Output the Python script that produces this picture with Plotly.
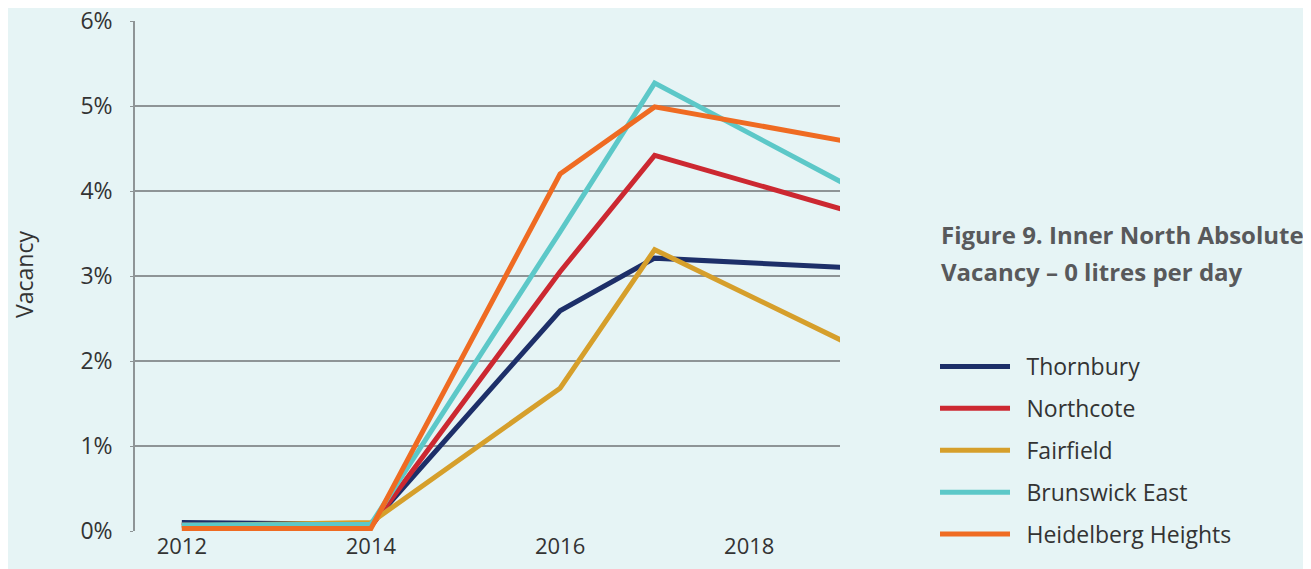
import plotly.graph_objects as go

years = [2012, 2014, 2016, 2017, 2019]
series_names = ["Thornbury", "Northcote", "Fairfield", "Brunswick East", "Heidelberg Heights"]
thornbury = [0.10, 0.08, 2.59, 3.21, 3.10]
northcote = [0.07, 0.05, 3.05, 4.42, 3.78]
fairfield = [0.06, 0.10, 1.68, 3.31, 2.23]
brunswick_east = [0.07, 0.08, 3.52, 5.27, 4.09]
heidelberg_heights = [0.03, 0.03, 4.20, 4.99, 4.59]
values = [thornbury, northcote, fairfield, brunswick_east, heidelberg_heights]
colors = ["#1d2f69", "#cc2831", "#d69f2b", "#5cc8c8", "#ef6b22"]

y_ticks = [0, 1, 2, 3, 4, 5, 6]
y_tick_text = ["0%", "1%", "2%", "3%", "4%", "5%", "6%"]
x_ticks = [2012, 2014, 2016, 2018]

BG = "#e6f4f5"
FONT = "Open Sans, Lato, sans-serif"
# page body has an 8px margin, so the figure is offset by 8px on screen
OFF = 8
PL, PT, PW, PH = 135, 21, 705, 510  # plot area in screen pixels
L, T = PL - OFF, PT - OFF
R = 1311 - L - PW
B = 569 - T - PH


def px_x(x):
    return (x - PL) / PW


def px_y(y):
    return (PT + PH - y) / PH


fig = go.Figure()
for i, (name, vals, col) in enumerate(zip(series_names, values, colors)):
    fig.add_trace(go.Scatter(
        x=years, y=vals, mode="lines", name="\u2002" + name,
        line=dict(color=col, width=5), legendgroup=f"g{i}",
    ))

fig.update_layout(
    width=1311, height=569,
    paper_bgcolor=BG, plot_bgcolor=BG,
    margin=dict(l=L, r=R, t=T, b=B, autoexpand=False),
    font=dict(family=FONT, color="#333333", size=22),
    showlegend=True,
    legend=dict(
        x=px_x(935), xanchor="left", y=px_y(345), yanchor="top",
        xref="paper", yref="paper",
        font=dict(size=23, color="#333333", family=FONT),
        bgcolor="rgba(0,0,0,0)", tracegroupgap=9, itemwidth=70,
    ),
    xaxis=dict(
        range=[2011.505, 2018.96], tickvals=x_ticks, ticktext=[str(t) for t in x_ticks],
        showgrid=False, zeroline=False, showline=False, ticks="",
        tickfont=dict(size=22, color="#333333"), automargin=False,
        ticklabeloverflow="allow",
    ),
    yaxis=dict(
        range=[0, 6], tickvals=y_ticks, ticktext=y_tick_text,
        showgrid=True, gridcolor="#8e9496", gridwidth=1.5,
        zeroline=False, showline=True, linecolor="#8e9496", linewidth=1.5,
        ticks="outside", ticklen=3, tickcolor="#8e9496", ticklabelstandoff=13,
        tickfont=dict(size=23, color="#333333"), automargin=False,
        ticklabeloverflow="allow",
    ),
    annotations=[
        dict(text="Vacancy", xref="paper", yref="paper", x=px_x(24), y=px_y(275),
             xanchor="center", yanchor="middle", textangle=-90, showarrow=False,
             font=dict(size=23, color="#333333", family=FONT)),
        dict(text="<b>Figure 9. Inner North Absolute</b>", xref="paper", yref="paper",
             x=px_x(939), y=px_y(235), xanchor="left", yanchor="middle", showarrow=False,
             font=dict(size=24, color="#58595b", family=FONT)),
        dict(text="<b>Vacancy – 0 litres per day</b>", xref="paper", yref="paper",
             x=px_x(939), y=px_y(271), xanchor="left", yanchor="middle", showarrow=False,
             font=dict(size=24, color="#58595b", family=FONT)),
    ],
)

fig.write_html("out.html")
